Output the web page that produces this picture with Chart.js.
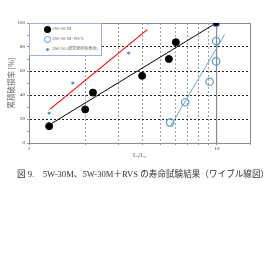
<!DOCTYPE html>
<html>
<head>
<meta charset="utf-8">
<script src="https://cdn.jsdelivr.net/npm/chart.js@4/dist/chart.umd.min.js"></script>
<style>
  body { margin: 0; background: #fff; }
  #wrap { position: relative; width: 280px; height: 280px; }
  #legend {
    position: absolute; left: 29px; top: 23px; width: 73px; height: 33px;
    border: 1px solid #9fb3d6; background: #fff; box-sizing: border-box;
    font-family: "Liberation Serif", "Noto Sans CJK JP", serif; font-size: 5px; color: #666;
  }
  #legend div { position: absolute; left: 0; height: 8px; line-height: 8px; white-space: nowrap; }
  #legend i { position: absolute; border-radius: 50%; box-sizing: border-box; }
  #legend span { position: absolute; left: 22px; }
  #caption {
    position: absolute; left: 17px; top: 167px; white-space: nowrap;
    font-family: "Liberation Serif", "Noto Sans CJK JP", serif; font-size: 8.6px; color: #333;
  }
</style>
</head>
<body>
<div id="wrap">
  <canvas id="chart" width="280" height="280"></canvas>
  <div id="legend">
    <div style="top:1px"><i style="left:14px;top:0.5px;width:7px;height:7px;background:#000"></i><span>5W-30 M</span></div>
    <div style="top:11px"><i style="left:14px;top:0.5px;width:7px;height:7px;border:1.2px solid #5b9bd5"></i><span>5W-30 M+RVS</span></div>
    <div style="top:21px"><i style="left:16px;top:2.5px;width:3px;height:3px;background:#4f94d4"></i><span>5W-30 <small style="font-size:4px">(研究室所有車両)</small></span></div>
  </div>
  <div id="caption">図 9.　5W-30M、5W-30M＋RVS の寿命試験結果（ワイブル線図）</div>
</div>
<script>
// life ratio vs cumulative failure rate [%]
const ratioM = [1.28, 1.99, 2.19, 4.0, 5.55, 6.05, 9.9];
const failM = [14, 28, 42, 56, 70, 84, 100];
const ratioRVS = [5.64, 6.78, 9.15, 9.9, 9.9, 9.9];
const failRVS = [17, 34, 51, 68, 85, 100];
const ratioRef = [1.28, 1.71, 3.39, 4.3];
const failRef = [25, 50, 75, 100];

// fitted lines (end points)
const fitMx = [1.28, 9.9], fitMy = [15, 100];
const fitRefx = [1.29, 4.26], fitRefy = [28, 94.5];
const fitRVSx = [5.69, 11.0], fitRVSy = [14.7, 90.4];

const xTicks = [1, 2, 3, 4, 5, 6, 7, 8, 9, 10, 15];

const pts = (xs, ys) => xs.map((x, i) => ({ x: x, y: ys[i] }));

const ctx = document.getElementById('chart').getContext('2d');
const chart = new Chart(ctx, {
    type: 'scatter',
    data: {
        datasets: [
            { label: 'fitM', data: pts(fitMx, fitMy), showLine: true, borderColor: '#000', borderWidth: 1, pointRadius: 0, order: 6 },
            { label: 'fitRef', data: pts(fitRefx, fitRefy), showLine: true, borderColor: '#ff0000', borderWidth: 1.1, pointRadius: 0, order: 5 },
            { label: 'fitRVS', data: pts(fitRVSx, fitRVSy), showLine: true, borderColor: '#6aa5dc', borderWidth: 1, pointRadius: 0, order: 4 },
            { label: '5W-30 (研究室所有車両)', data: pts(ratioRef, failRef), backgroundColor: '#4f94d4', borderWidth: 0, pointRadius: 1.6, order: 3 },
            { label: '5W-30 M', data: pts(ratioM, failM), backgroundColor: '#000', borderColor: '#000', pointRadius: 3.5, order: 2 },
            { label: '5W-30 M+RVS', data: pts(ratioRVS, failRVS), backgroundColor: 'rgba(255,255,255,0)', borderColor: '#5b9bd5', borderWidth: 1.2, pointRadius: 3.7, order: 1 }
        ]
    },
    options: {
        responsive: false,
        animation: false,
        devicePixelRatio: 1,
        layout: { padding: { left: 0, top: 23, right: 30, bottom: 121 } },
        plugins: { legend: { display: false }, tooltip: { enabled: false } },
        scales: {
            x: {
                type: 'logarithmic',
                min: 1,
                max: 15,
                afterBuildTicks: s => { s.ticks = xTicks.map(v => ({ value: v })); },
                afterFit: s => { s.height = 16; },
                ticks: {
                    autoSkip: false, maxRotation: 0, padding: 1,
                    font: { size: 5, family: 'Liberation Serif' }, color: '#333',
                    callback: v => (v === 1 || v === 10) ? String(v) : ''
                },
                grid: {
                    color: c => (c.tick && (c.tick.value === 10 || c.tick.value === 15)) ? '#8c8c8c' : '#a0a0a0',
                    lineWidth: c => (c.tick && c.tick.value === 10) ? 1.2 : 1,
                    tickLength: 2, tickColor: '#999'
                },
                border: {
                    color: '#8c8c8c',
                    dash: c => (c.tick && c.tick.value > 1 && c.tick.value < 10) ? [2, 2] : []
                },
                title: {
                    display: true, text: 'Lₙ/L₀', color: '#555', padding: 0,
                    font: { size: 6, family: 'Liberation Serif' }
                }
            },
            y: {
                min: 0,
                max: 100,
                afterFit: s => { s.width = 29; },
                ticks: {
                    stepSize: 5, padding: 2,
                    font: { size: 5, family: 'Liberation Serif' }, color: '#333',
                    callback: v => v % 20 === 0 ? String(v) : ''
                },
                grid: {
                    color: c => {
                        if (!c.tick) return '#8c8c8c';
                        const v = c.tick.value;
                        if (v === 100) return '#8c8c8c';
                        if (v % 20 === 0 && v > 0) return '#222';
                        return 'rgba(0,0,0,0)';
                    },
                    tickLength: 2, tickColor: '#999'
                },
                border: {
                    color: '#8c8c8c',
                    dash: c => (c.tick && c.tick.value > 0 && c.tick.value < 100) ? [2, 2] : []
                },
                title: {
                    display: true, text: '累積破損率 [%]', color: '#666',
                    padding: { top: 7, bottom: 0 },
                    font: { size: 7.5, family: 'Noto Sans CJK JP' }
                }
            }
        }
    }
});
</script>
</body>
</html>
